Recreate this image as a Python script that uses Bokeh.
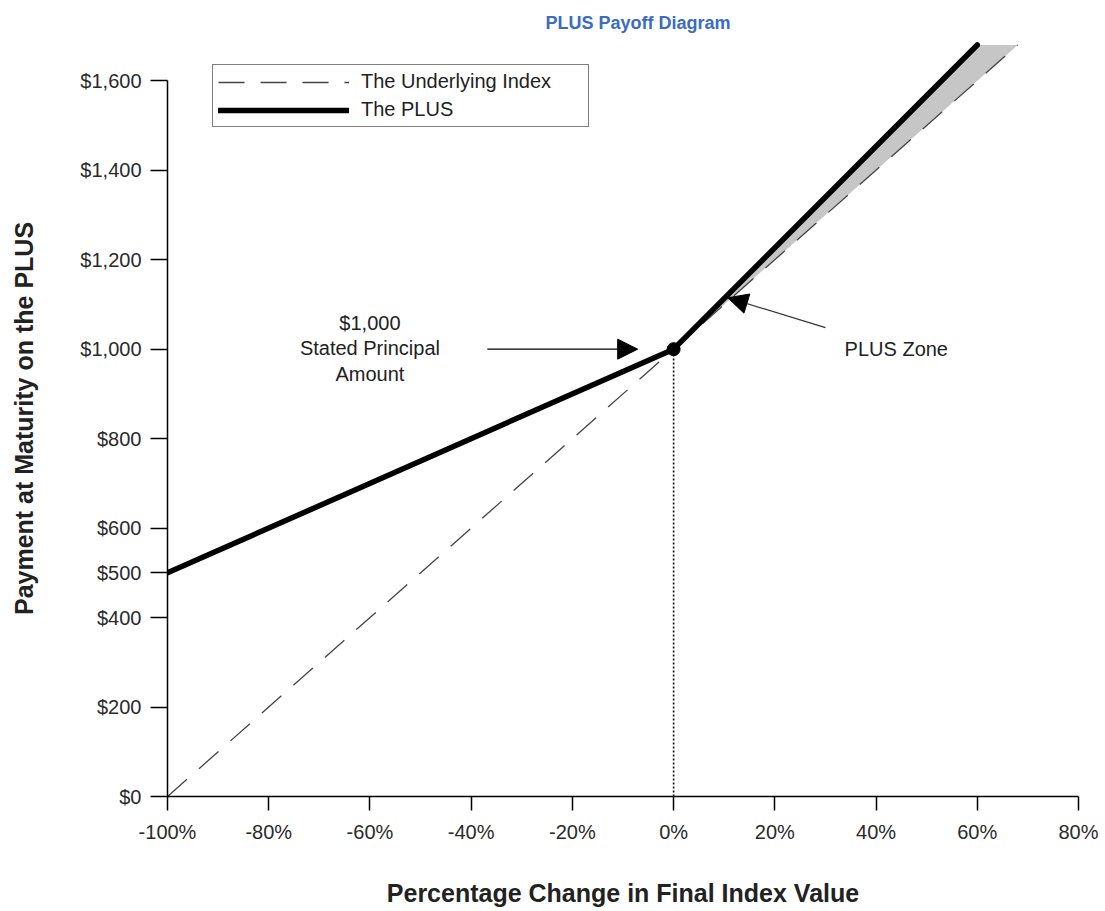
from bokeh.plotting import figure
from bokeh.models import (Range1d, FixedTicker, NumeralTickFormatter, PrintfTickFormatter,
                          Legend, LegendItem, Arrow, NormalHead, Label)
from bokeh.embed import file_html
from bokeh.resources import INLINE

# ---- data (percentage change in final index value vs payment at maturity) ----
index_x = [-100, 0, 68]
index_y = [0, 1000, 1680]
plus_x = [-100, 0, 60]
plus_y = [500, 1000, 1680]
principal_x = [0]
principal_y = [1000]
x_ticks = [-100, -80, -60, -40, -20, 0, 20, 40, 60, 80]
y_ticks = [0, 200, 400, 500, 600, 800, 1000, 1200, 1400, 1600]

# annotation anchors (data units)
principal_text = ["$1,000", "Stated Principal", "Amount"]
principal_text_x = [-60, -60, -60]
principal_text_y = [1059, 1003, 945]
principal_arrow_x = [-36.8, -7.1]
principal_arrow_y = [1000, 1000]
zone_text = "PLUS Zone"
zone_text_x = 44
zone_text_y = 1000
zone_arrow_x = [30.0, 10.7]
zone_arrow_y = [1048, 1115]

FONT = "Liberation Sans, Arial, sans-serif"

p = figure(width=1100, height=909, output_backend="svg", toolbar_location=None,
           x_range=Range1d(-100, 80), y_range=Range1d(0, 1690),
           min_border_left=167, min_border_right=22, min_border_top=40, min_border_bottom=112)
p.background_fill_color = "white"
p.border_fill_color = "white"
p.outline_line_color = None
p.xgrid.visible = False
p.ygrid.visible = False

# title
p.title.text = "PLUS Payoff Diagram"
p.title.text_font = FONT
p.title.text_font_style = "bold"
p.title.text_font_size = "18px"
p.title.text_color = "#3a6bc5"
p.title.align = "left"
p.title.offset = 378
p.title.standoff = 16

# shaded PLUS zone
zone_xs = [plus_x[1], plus_x[2], index_x[2]]
zone_ys = [plus_y[1], plus_y[2], index_y[2]]
p.patch(zone_xs, zone_ys, fill_color="#c6c6c6", line_color=None)

# dotted vertical at 0%
p.segment(x0=principal_x, y0=[0], x1=principal_x, y1=principal_y,
          line_color="black", line_width=1.6, line_dash="2 2")

r_index = p.line(index_x, index_y, line_color="#444444", line_width=1.3, line_dash="26 16")
r_plus = p.line(plus_x, plus_y, line_color="black", line_width=5.5, line_cap="round")
p.scatter(principal_x, principal_y, size=13, fill_color="black", line_color="black")

# annotations
for t, tx, ty in zip(principal_text, principal_text_x, principal_text_y):
    p.add_layout(Label(x=tx, y=ty, text=t, text_align="center", text_baseline="middle",
                       text_font=FONT, text_font_size="20px", text_color="#222222"))
p.add_layout(Arrow(end=NormalHead(size=20, fill_color="black", line_color="black"),
                   x_start=principal_arrow_x[0], y_start=principal_arrow_y[0],
                   x_end=principal_arrow_x[1], y_end=principal_arrow_y[1],
                   line_color="black", line_width=1.3))
p.add_layout(Label(x=zone_text_x, y=zone_text_y, text=zone_text, text_align="center",
                   text_baseline="middle", text_font=FONT, text_font_size="20px",
                   text_color="#222222"))
p.add_layout(Arrow(end=NormalHead(size=20, fill_color="black", line_color="black"),
                   x_start=zone_arrow_x[0], y_start=zone_arrow_y[0],
                   x_end=zone_arrow_x[1], y_end=zone_arrow_y[1],
                   line_color="#333333", line_width=1.2))

# axes
for ax in (p.xaxis[0], p.yaxis[0]):
    ax.axis_line_color = "black"
    ax.axis_line_width = 1.5
    ax.major_tick_line_color = "black"
    ax.major_tick_line_width = 1.5
    ax.major_tick_in = 0
    ax.minor_tick_line_color = None
    ax.major_label_text_font = FONT
    ax.major_label_text_font_size = "20px"
    ax.major_label_text_color = "#2a2a2a"
    ax.axis_label_text_font = FONT
    ax.axis_label_text_font_style = "bold"
    ax.axis_label_text_font_size = "25px"
    ax.axis_label_text_color = "#222222"

p.xaxis.ticker = FixedTicker(ticks=x_ticks)
p.xaxis.formatter = PrintfTickFormatter(format="%d%%")
p.xaxis.major_tick_out = 14
p.xaxis.major_label_standoff = 10
p.xaxis.axis_label = "Percentage Change in Final Index Value"
p.xaxis.axis_label_standoff = 33
p.xaxis.bounds = (x_ticks[0], x_ticks[-1])

p.yaxis.ticker = FixedTicker(ticks=y_ticks)
p.yaxis.formatter = NumeralTickFormatter(format="$0,0")
p.yaxis.major_tick_out = 17
p.yaxis.major_label_standoff = 9
p.yaxis.axis_label = "Payment at Maturity on the PLUS"
p.yaxis.axis_label_standoff = 39
p.yaxis.bounds = (y_ticks[0], y_ticks[-1])

legend = Legend(items=[LegendItem(label="The Underlying Index", renderers=[r_index]),
                       LegendItem(label="The PLUS", renderers=[r_plus])],
                location=(45, 669), orientation="vertical", padding=5, spacing=5,
                glyph_width=131, glyph_height=20, label_standoff=12, label_width=222,
                label_height=20, label_text_font=FONT, label_text_font_size="20px",
                label_text_color="#222222", border_line_color="black",
                border_line_width=1.5, background_fill_color="white",
                background_fill_alpha=1.0, margin=0)
p.add_layout(legend)

open("out.html", "w").write(file_html(p, INLINE))
